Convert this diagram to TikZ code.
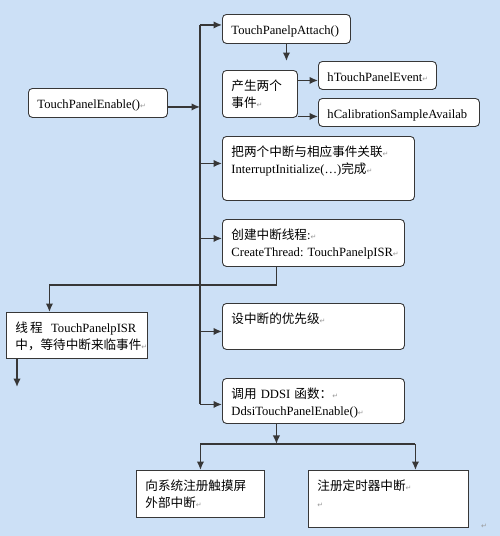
\documentclass[tikz,border=0pt]{standalone}
\usepackage{fontspec}
\setmainfont{Liberation Serif}
\newfontfamily\cjk{Noto Sans CJK SC}
\newfontfamily\symfont{DejaVu Sans}
\usetikzlibrary{arrows.meta,calc}

\newcommand\zh[1]{{\cjk #1}}
\newcommand\pmark{{\symfont\fontsize{7}{7}\selectfont\textcolor{black!40}{↵}}}
\definecolor{paper}{RGB}{204,224,246}
\definecolor{edge}{RGB}{55,55,55}
\frenchspacing

\begin{document}
\begin{tikzpicture}[x=1pt,y=-1pt,
  box/.style={draw=edge,line width=.9pt,fill=white,anchor=north west,align=left,
    inner xsep=9pt,inner ysep=8pt,text height=12pt,font=\fontsize{12.6}{17}\selectfont},
  roundbox/.style={box,rounded corners=4pt},
  link/.style={-{Latex[length=8.5pt,width=7.5pt]},draw=edge,line width=1.5pt},
  wire/.style={draw=edge,line width=1.5pt}]

  \fill[paper] (0,0) rectangle (500,536);

  \node[roundbox,text width=121pt,text depth=1pt] (enable) at (28,88) {TouchPanelEnable()\pmark};
  \node[roundbox,text width=110pt,text depth=1pt] (attach) at (222,14) {TouchPanelpAttach()};
  \node[roundbox,text width=57pt,text depth=19pt] (gen) at (222,70) {\zh{产生两个}\\\zh{事件}\pmark};
  \node[roundbox,text width=100pt,text depth=0pt] (evt) at (318,61) {hTouchPanelEvent\pmark};
  \node[roundbox,text width=143pt,text depth=0pt] (cal) at (318,98) {\mbox{hCalibrationSampleAvailab}};
  \node[roundbox,text width=174pt,text depth=36pt] (assoc) at (222,136)
    {\zh{把两个中断与相应事件关联}\pmark\\InterruptInitialize(\ldots)\zh{完成}\pmark};
  \node[roundbox,text width=164pt,text depth=19pt] (thread) at (222,219)
    {\zh{创建中断线程}:\pmark\\\mbox{CreateThread: TouchPanelpISR\pmark}};
  \node[box,text width=123pt,text depth=18pt] (isr) at (6,312)
    {\zh{线\,程}\ \ TouchPanelpISR\\\zh{中，等待中断来临事件}\pmark};
  \node[roundbox,text width=164pt,text depth=18pt] (prio) at (222,303) {\zh{设中断的优先级}\pmark};
  \node[roundbox,text width=164pt,text depth=17pt] (ddsi) at (222,378)
    {\zh{调用} DDSI \zh{函数：}\pmark\\DdsiTouchPanelEnable()\pmark};
  \node[box,text width=110pt,text depth=19pt] (ext) at (136,470) {\zh{向系统注册触摸屏}\\\zh{外部中断}\pmark};
  \node[box,text width=142pt,text depth=29pt] (timer) at (308,470) {\zh{注册定时器中断}\pmark\\\pmark};
  \node (endmark) at (484,526) {\pmark};

  % trunk and branches
  \coordinate (trunk) at (200,0);
  \draw[link] ([yshift=-4pt]enable.east) -- ([yshift=-4pt]enable.east -| trunk);
  \draw[wire] ([yshift=4pt]attach.west -| trunk) -- ([yshift=-3.5pt]ddsi.west -| trunk);
  \foreach \b/\s in {attach/4pt,assoc/5pt,thread/4.5pt,prio/-5pt,ddsi/-3.5pt}
    \draw[link] ([yshift=\s]\b.west -| trunk) -- ([yshift=\s]\b.west);

  \draw[link,shorten >=9pt] (attach.south) -- (attach.south |- gen.north);
  \draw[link] ([yshift=-5pt]evt.west -| gen.east) -- ([yshift=-5pt]evt.west);
  \draw[link] ([yshift=-4pt]cal.west -| gen.east) -- ([yshift=-4pt]cal.west);

  % thread side
  \draw[link] ([xshift=-37pt]thread.south) -- ++(0,18) -| ([xshift=-27.5pt]isr.north);
  \coordinate (isrout) at (17,387);
  \draw[link] (isrout |- isr.south) -- (isrout);

  % fork below ddsi
  \draw[link] ([xshift=-37pt]ddsi.south) -- ++(0,20) coordinate (fork);
  \coordinate (tin) at ([xshift=27pt]timer.north);
  \draw[wire] (ext.north |- fork) -- (tin |- fork);
  \draw[link] (ext.north |- fork) -- (ext.north);
  \draw[link] (tin |- fork) -- (tin);
\end{tikzpicture}
\end{document}
